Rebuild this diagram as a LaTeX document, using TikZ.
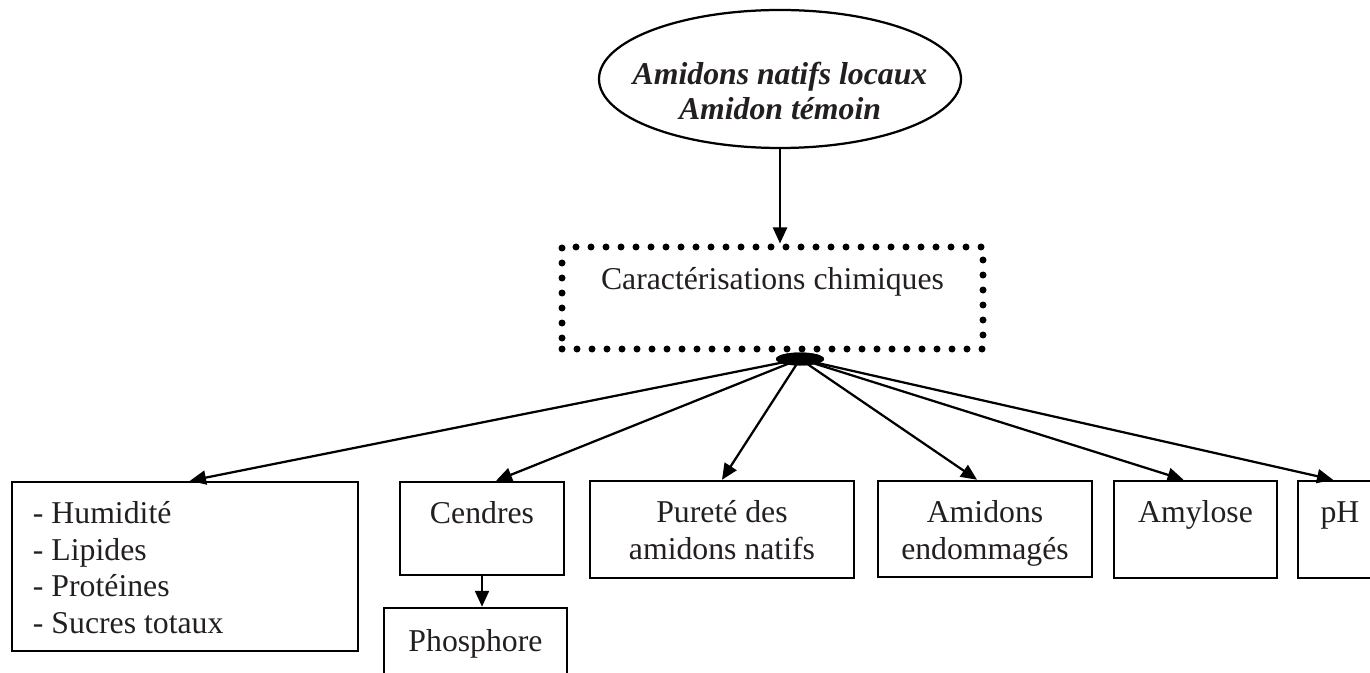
\documentclass[tikz,border=0pt]{standalone}
\usepackage{fontspec}
\setmainfont{Liberation Serif}
\usetikzlibrary{arrows.meta,shapes.geometric}
\definecolor{txt}{RGB}{35,31,32}
\newcommand\bxt[4]{\parbox[c][#2][t]{#1}{\vspace*{#3}\centering\strut #4}}
\begin{document}
\begin{tikzpicture}[x=0.4pt,y=-0.4pt,
  every node/.style={font=\fontsize{12.7pt}{14.7pt}\selectfont, text=txt},
  box/.style={draw=black, line width=1pt, inner sep=0pt},
  dotbox/.style={draw=black, line width=2.8pt, dash pattern=on 0pt off 6pt, line cap=round, inner sep=0pt},
  srcell/.style={draw=black, ellipse, line width=0.9pt, inner sep=0pt, minimum width=144.8pt, minimum height=55.2pt},
  hubell/.style={ellipse, fill=black, inner sep=0pt, minimum width=19.2pt, minimum height=5.2pt},
  arr/.style={line width=0.9pt, -{Triangle[length=6.4pt,width=5.6pt]}},
]
\useasboundingbox (0,0) rectangle (1370,672);
\clip (0,0) rectangle (1370,672);

\node[srcell, label={[yshift=-4.6pt, align=center, text=txt, font=\fontsize{12.7pt}{14pt}\selectfont\bfseries\itshape]center:Amidons natifs locaux\\Amidon témoin}] (src) at (780,79) {};

\node[dotbox] (dot) at (772.5,298) {\bxt{168.4pt}{40.8pt}{6.6pt}{Caractérisations chimiques}};

\node[box] (box1) at (185,566.5) {\parbox[c][67.6pt][t]{138.4pt}{\vspace*{6.3pt}\raggedright\leftskip=8.4pt\strut - Humidité\\- Lipides\\- Protéines\\- Sucres totaux}};
\node[box] (cend) at (482,528.5) {\bxt{65.6pt}{37.2pt}{6.3pt}{Cendres}};
\node[box] (phos) at (475.5,654.5) {\bxt{73.2pt}{37.2pt}{7.3pt}{Phosphore}};
\node[box] (pure) at (722,529.5) {\bxt{105.6pt}{38.8pt}{6.3pt}{Pureté des\\amidons natifs}};
\node[box] (endo) at (985,529) {\bxt{85.6pt}{38.4pt}{6.3pt}{Amidons\\endommagés}};
\node[box] (amyl) at (1195.5,529.5) {\bxt{65.2pt}{38.8pt}{6.3pt}{Amylose}};
\node[box] (ph) at (1340,529.5) {\bxt{33.6pt}{38.8pt}{6.3pt}{pH}};

\draw[arr] (src) -- (src |- dot.north);
\draw[arr] (cend) -- (cend |- phos.north);

\node[hubell] (hub) at (800,359) {};
\draw[arr] (hub.center) -- ([xshift=2pt]box1.north);
\draw[arr] (hub.center) -- ([xshift=5.6pt]cend.north);
\draw[arr] (hub.center) -- (pure.north);
\draw[arr] (hub.center) -- ([xshift=-3.2pt]endo.north);
\draw[arr] (hub.center) -- ([xshift=-4.8pt]amyl.north);
\draw[arr] (hub.center) -- ([xshift=-2.8pt]ph.north);
\node[hubell] at (hub.center) {};
\end{tikzpicture}
\end{document}
